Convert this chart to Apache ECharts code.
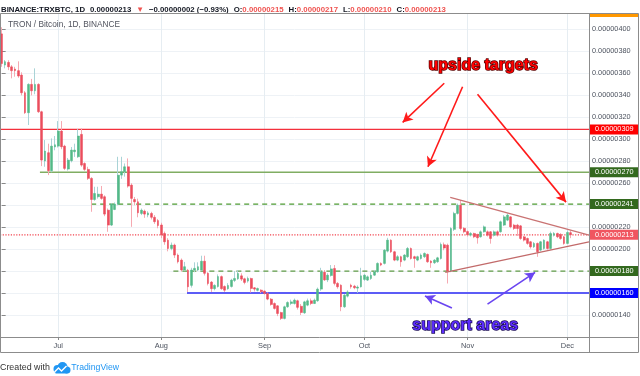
<!DOCTYPE html>
<html><head><meta charset="utf-8">
<script src="https://cdn.jsdelivr.net/npm/echarts/dist/echarts.min.js"></script>
<style>html,body{margin:0;padding:0;background:#fff}#c{width:640px;height:376px}</style>
</head><body><div id="c"></div>
<script>
// ---- data (prices in units of 1e-8 BTC) ----
const firstDay = [2019, 5, 14];   // 14 Jun 2019
const dayCount = 177;             // category slots incl. empty right margin
const monthNames = ['Jan','Feb','Mar','Apr','May','Jun','Jul','Aug','Sep','Oct','Nov','Dec'];
const opens = [396,367.6,370,366,364,362.5,358.5,342.4,324.2,350,344.2,350,325.1,280.2,287.8,271.4,293,293.8,307.5,293.8,
272.9,280.5,288.7,284.1,304.5,278,272.6,264.4,245.2,247.7,250.1,247.7,235.5,221.9,236.1,241,267.4,270.5,275,258.3,
245.2,243.1,232.5,234.6,231.1,232.5,229,226,222,214.3,208.2,200.6,203.7,194.6,190,181,180.8,167,181,181,
181,189,178,170,164,166,175,166,164,166,171.5,173,175.7,173,170.9,173.3,164.8,162.5,162.7,161.8,
159.6,154.5,150.5,148.4,142.3,136.9,147.5,150.5,150.5,153,148,142,149,153,150.5,153,163.6,179,172,176,
182.4,168.8,167.2,147.5,157.2,167.2,166.3,164.5,165.7,172.4,171.8,173.3,176.3,179.4,187,187,198.2,208.2,197.6,190,
193.1,190,193.1,200.6,193.1,190,191.5,193.1,195.2,189.1,187.6,188.5,191.5,204,203.6,180,218,232.5,240,219,
216,212.7,214.3,213.4,211.2,215.8,215.8,215.8,212.7,215.8,215.8,221.9,226.4,229.4,221.9,221.9,221.2,211.2,209.7,206.7,
202.1,205.2,199.1,200.6,206.7,200.6,212.7,214.3,213.4,211.2,205.2,215];
const closes = [369,370.7,366,362.5,362.5,357.6,342.4,324.2,350,344.2,350,325.1,281.1,289.3,271.4,293.8,295,307.5,293.2,273.5,
281.1,290.2,290.2,303,276.5,272.6,264.4,245.2,250.7,250.1,246.2,231.9,221.9,241,241,267.4,270.5,275,257.4,246.2,
243.1,233.1,235.5,231.9,233,229,225,221.5,213,206.7,200.6,203.7,194.6,188.5,181,184,165.7,181,182.5,184,
189,178,168.7,164,167,175,164,162.6,167,171.8,173.3,177.9,172.7,169.7,173.3,164.2,163.6,164.2,161.2,159.6,
154.5,149.6,146,141.4,136.9,147.5,151.4,152,153.6,147,142.3,152,153,150.5,153.6,163.6,179.4,172,176.3,182,
168.8,165.7,147.5,158.1,161,165.7,164.8,165.5,175.7,176.3,174.8,176.3,179.4,187,185.5,199.1,208.2,197.6,190,193.1,
188.5,194.6,200.6,191.5,191.5,193.1,194.6,196.1,188.5,187.6,190,192.1,204.3,201,180,218.8,232.5,240,218.8,215.8,
213,214.3,211.2,210.3,215.8,220.3,212.7,209.7,215.8,212.7,224.9,229.4,231,220.3,218.8,218.8,209.7,208.2,205.2,202.1,
205.2,197.6,206.7,208.2,200.6,214.3,214.3,211.2,209.7,205.2,215.2,213];
const lows = [366,364.6,363,355.5,357,356,340,323,313,340,341,324,275.6,275,267.4,270,290,292.5,291,272,
271.5,279,284,283,275,271.3,263,234,244,246,245,230,215.8,221,235.5,240,264,266,256,220.3,
240,229,231,228.5,229,227,223,219,210,204,198,199,192,187,179.5,180,161,165,179,180,
180,176,167,161,162.5,165,163,161,163,165,170,172,171,168,169.5,160.5,161.5,161.5,160,158.5,
153.5,148.5,145,139,135.5,136,146.5,149,149.5,145,140,141,148,149,150,152,162,171,170,175,
167,164,143.5,146.5,156,164,163.5,160.2,165,171,171,172,175.5,178.5,184.5,186,197,196.5,189,189,
184,189,192,190.5,183,189,190.5,192,187.5,183,186.5,187.5,190.5,199,168.7,179,216.5,231.5,217,214.5,
211.5,211.5,210,205,210.5,215,211.5,205,211.5,211.5,215,221,225.5,219,217.5,212,208.5,207,204,200.5,
201,193,198,199.5,199.5,199.5,211.5,210,208.5,204,204.5,210];
const highs = [402,372.2,372,367.6,366,371,361,344,351,355,364.6,351,326,299.3,296,300.8,303,316.6,316.6,295,
283,293,296,309.3,310,279,275,265.5,256.8,256.8,257.5,249,237,242,242.5,284.1,284.1,278,282.6,260,
247.5,246,237,236,234.5,234,231,227.5,224,216,210,206,205,196,191.5,188.4,182,183,188,188,
194,194,179,171,168,177,176,167,169,173,180,181,178,174,175,174,165.5,165,163.5,162.5,
160.5,155.5,151.5,149,143,148.5,152.5,154,155,154,150,153,155,155,155,165,183,181,178,185.5,
185.5,170,168,159,162.5,168.5,167.5,167,183,177.5,176,179.4,181,188,188,200,210.3,209,198.5,194.5,
194,195.5,202,201.5,194,194,196,197,196,190,191,193,206,206,205,220,234,241.5,244.6,220,
217,215.5,215,214,217,221.5,217,216.5,217,217,226,231,232.5,230,223,223,222,212,210.5,207.5,
206.5,206,207.5,209,207.5,216,215.5,215,214.5,212,217,217];
// horizontal support / resistance levels
const levelValues = [309, 270, 241, 213, 180, 160];
// triangle trend lines: [day index, price] end points
const triangleUpper = [[134.8, 247.1], [176.5, 212.8]];
const triangleLower = [[133.3, 178.8], [176.5, 206.7]];
// annotation arrows [from, to] in [day index, price]
const targetArrows = [[[133.0, 351], [120.5, 315.4]], [[138.5, 347.9], [128.1, 275]], [[143, 341], [169.6, 242.8]]];
const supportArrows = [[[135.3, 146.5], [127.2, 157.4]], [[146, 150], [160.3, 178.8]]];
const headerQuote = {symbol:'BINANCE:TRXBTC, 1D', last:'0.00000213', change:'−0.00000002 (−0.93%)', o:'0.00000215', h:'0.00000217', l:'0.00000210', c:'0.00000213'};

// ---- build ----
const categories = [];
for (let i = 0; i < dayCount; i++) {
  const d = new Date(Date.UTC(firstDay[0], firstDay[1], firstDay[2] + i));
  categories.push(d.toISOString().slice(0, 10));
}
const isMonthStart = (v) => v.slice(8) === '01';
const candleData = opens.map((o, i) => [o, closes[i], lows[i], highs[i]]);
const bodyData = opens.map((o, i) => [o, closes[i], Math.min(o, closes[i]), Math.max(o, closes[i])]);
const fmt = (v) => (v / 1e8).toFixed(8);
const sans = "'Liberation Sans',Arial,sans-serif";
const xEnd = dayCount - 0.5;

const levelStyles = [
  {start: -0.5, color: '#f4303c', width: 1.2, type: 'solid', tag: '#ff0000'},
  {start: 11.5, color: '#80ad62', width: 1.6, type: 'solid', tag: '#33691e'},
  {start: 26.9, color: '#4e9a33', width: 1.2, type: [5, 4], tag: '#33691e'},
  {start: -0.5, color: '#f2434e', width: 1.1, type: [1.2, 1.5], tag: '#f05560'},
  {start: 51.6, color: '#5f9a45', width: 1.2, type: [5, 4], tag: '#33691e'},
  {start: 55.7, color: '#5c5cf6', width: 2, type: 'solid', tag: '#0000ff'}
];
const levelSeries = levelValues.map((v, i) => {
  const s = levelStyles[i];
  return {
    type: 'line', xAxisIndex: 1, z: 2, silent: true, clip: false, symbol: 'none', animation: false,
    data: [[s.start, v], [xEnd, v]],
    lineStyle: {color: s.color, width: s.width, type: s.type},
    itemStyle: {color: s.color},
    endLabel: {show: true, distance: 1, formatter: fmt(v), color: '#fff', backgroundColor: s.tag,
               padding: [2, 5, 1, 5], fontSize: 7.3, fontFamily: sans}
  };
});
const arrowItem = (a, color) => [
  {coord: a[0], symbol: 'none', lineStyle: {color: color, width: 1.6, type: 'solid'}},
  {coord: a[1], symbol: 'arrow', symbolSize: [8, 10]}
];
const annotationLines = [
  [{coord: triangleUpper[0], lineStyle: {color: '#c97373', width: 1.3, type: 'solid'}}, {coord: triangleUpper[1]}],
  [{coord: triangleLower[0], lineStyle: {color: '#c26a6a', width: 1.3, type: 'solid'}}, {coord: triangleLower[1]}]
].concat(targetArrows.map(a => arrowItem(a, '#ff1a1a')), supportArrows.map(a => arrowItem(a, '#6a45f0')));

const chart = echarts.init(document.getElementById('c'), null, {renderer: 'canvas'});
const option = {
  animation: false,
  title: [
    {left: 1, top: 1, padding: 0,
     text: '{b|' + headerQuote.symbol + '} {n|' + headerQuote.last + '} {r|▼} {n|' + headerQuote.change + '} {n|O:}{r|' + headerQuote.o +
           '} {n|H:}{r|' + headerQuote.h + '} {n|L:}{r|' + headerQuote.l + '} {n|C:}{r|' + headerQuote.c + '}',
     textStyle: {rich: {
       b: {fontFamily: sans, fontSize: 7.8, fontWeight: 'bold', color: '#131722'},
       n: {fontFamily: sans, fontSize: 7.8, color: '#131722'},
       r: {fontFamily: sans, fontSize: 7.8, color: '#ef5350'}}}},
    {left: 8, top: 21, padding: 0, text: 'TRON / Bitcoin, 1D, BINANCE',
     textStyle: {fontFamily: sans, fontSize: 8.3, fontWeight: 'normal', color: '#50535e'}},
    {left: 0, top: 363, padding: 0, text: 'Created with {t|TradingView}',
     textStyle: {fontFamily: sans, fontSize: 8.9, fontWeight: 'normal', color: '#333',
       rich: {t: {fontFamily: sans, fontSize: 8.7, color: '#2196f3', padding: [0, 0, 0, 19]}}}}
  ],
  grid: {left: 0, right: 51, top: 13, bottom: 39},
  xAxis: [
    {type: 'category', data: categories, boundaryGap: true,
     axisLine: {show: false},
     axisTick: {show: true, interval: (i, v) => isMonthStart(v), alignWithLabel: true, length: 3, lineStyle: {color: '#888'}},
     axisLabel: {interval: (i, v) => isMonthStart(v), formatter: (v) => monthNames[+v.slice(5, 7) - 1],
                 fontSize: 7.4, color: '#4c525e', margin: 5, fontFamily: sans},
     splitLine: {show: true, interval: (i, v) => isMonthStart(v), alignWithLabel: true, lineStyle: {color: '#e6edf2', width: 1}}},
    {type: 'value', min: -0.5, max: xEnd, show: false}
  ],
  yAxis: {type: 'value', position: 'right', min: 120, max: 415, interval: 20,
    axisLine: {show: false},
    axisTick: {show: true, length: 4, lineStyle: {color: '#888'}},
    axisLabel: {formatter: fmt, fontSize: 7.3, color: '#4c525e', margin: 3, showMinLabel: false, showMaxLabel: false, fontFamily: sans},
    splitLine: {show: true, lineStyle: {color: '#eef2f6', width: 1}}},
  series: levelSeries.concat([
    {type: 'candlestick', name: 'wicks', data: candleData, barWidth: 1, z: 3, silent: true,
     itemStyle: {color: '#a9d3d6', color0: '#f6a9b1', borderColor: '#a9d3d6', borderColor0: '#f6a9b1', borderWidth: 1}},
    {type: 'candlestick', name: 'bodies', data: bodyData, barWidth: 2.3, z: 4, silent: true,
     itemStyle: {color: '#53b987', color0: '#eb4d5c', borderColor: '#53b987', borderColor0: '#eb4d5c', borderWidth: 0.5}},
    {type: 'line', xAxisIndex: 1, data: [], z: 6, clip: false, silent: true,
     markLine: {silent: true, animation: false, symbol: ['none', 'none'], label: {show: false}, data: annotationLines},
     markPoint: {silent: true, animation: false, symbol: 'rect', symbolSize: 1, itemStyle: {color: 'rgba(0,0,0,0)'},
       data: [
         {coord: [144.7, 366.7], label: {show: true, position: 'inside', formatter: 'upside targets', fontFamily: sans, fontSize: 16,
            fontWeight: 'bold', color: '#ff0000', textBorderColor: '#5a0000', textBorderWidth: 1.5,
            textShadowColor: '#300000', textShadowOffsetX: 1, textShadowOffsetY: 1, textShadowBlur: 0}},
         {coord: [139.3, 130.5], label: {show: true, position: 'inside', formatter: 'support areas', fontFamily: sans, fontSize: 16,
            fontWeight: 'bold', color: '#5b2cff', textBorderColor: '#1a0a55', textBorderWidth: 1.5,
            textShadowColor: '#10063a', textShadowOffsetX: 1, textShadowOffsetY: 1, textShadowBlur: 0}}
       ]}}
  ]),
  graphic: [
    {type: 'rect', shape: {x: 590, y: 13, width: 48, height: 4}, style: {fill: '#ff9800'}, z: 10, silent: true},
    {type: 'rect', shape: {x: 0.5, y: 13.5, width: 638, height: 339}, style: {fill: 'none', stroke: '#8c8c8c', lineWidth: 1}, z: 11, silent: true},
    {type: 'line', shape: {x1: 589.5, y1: 13, x2: 589.5, y2: 352}, style: {stroke: '#8c8c8c', lineWidth: 1}, z: 11, silent: true},
    {type: 'line', shape: {x1: 0, y1: 337.5, x2: 639, y2: 337.5}, style: {stroke: '#8c8c8c', lineWidth: 1}, z: 11, silent: true},
    {type: 'group', left: 52, top: 362, silent: true, children: [
      {type: 'circle', shape: {cx: 5, cy: 7, r: 4}, style: {fill: '#2196f3'}},
      {type: 'circle', shape: {cx: 10, cy: 5, r: 5}, style: {fill: '#2196f3'}},
      {type: 'circle', shape: {cx: 14.5, cy: 8, r: 3.5}, style: {fill: '#2196f3'}},
      {type: 'rect', shape: {x: 3, y: 7, width: 12, height: 4.5}, style: {fill: '#2196f3'}},
      {type: 'polyline', shape: {points: [[2, 10], [6, 6], [9, 9], [14, 4]]}, style: {stroke: '#fff', lineWidth: 1.4, fill: 'none'}}
    ]}
  ]
};
chart.setOption(option);
</script></body></html>
